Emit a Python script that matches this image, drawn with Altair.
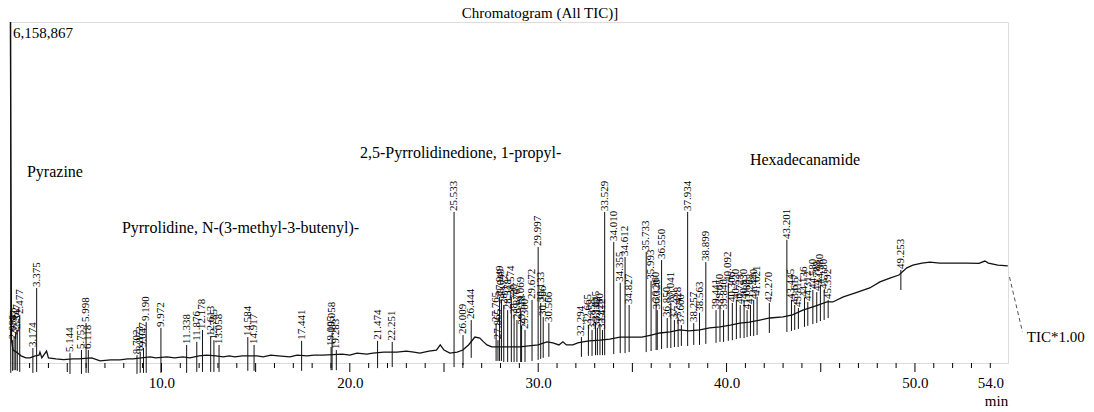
import altair as alt
import pandas as pd

# ---------------- data ----------------
MAX_LABEL = "6,158,867"          # full-scale intensity (top of frame = 100 %)

# baseline trace: retention time (min) and relative intensity (% of full scale)
trace_time = [1.98, 2.04, 2.12, 2.30, 2.55, 2.80, 3.02, 3.30, 3.50, 3.55, 3.65, 3.90, 4.00,
              4.40, 4.80, 5.30, 5.60, 6.30, 6.74, 7.30, 7.80, 8.20, 8.49, 9.40, 9.70, 10.29,
              10.70, 11.14, 11.51, 12.00, 12.40, 12.90, 13.27, 13.60, 13.90, 14.30, 15.07,
              15.40, 15.80, 16.20, 16.82, 17.20, 17.72, 18.10, 18.57, 19.60, 20.00, 20.38,
              20.90, 21.23, 21.80, 22.50, 23.00, 23.40, 23.72, 24.20, 24.60, 24.80, 25.00,
              25.31, 25.70, 26.00, 26.30, 26.64, 26.90, 27.10, 27.28, 27.54, 28.30, 29.03,
              29.50, 30.00, 30.46, 30.78, 31.10, 31.31, 31.50, 31.84, 32.10, 32.37, 32.70,
              33.28, 33.80, 34.34, 35.03, 35.50, 36.00, 36.46, 37.00, 37.52, 38.00, 38.58,
              39.10, 39.65, 40.20, 40.71, 41.20, 41.77, 42.30, 43.00, 43.50, 44.05, 44.70,
              45.33, 45.64, 46.20, 46.80, 47.60, 48.14, 48.67, 49.15, 49.57, 49.89, 50.37,
              50.80, 51.32, 52.00, 52.76, 53.40, 53.71, 53.90, 54.40, 54.93]
trace_rel = [100.0, 6.7, 3.8, 3.2, 2.1, 1.5, 1.5, 2.1, 2.3, 3.2, 1.5, 3.5, 1.5,
             1.2, 1.0, 1.2, 1.2, 1.5, 0.6, 0.9, 0.9, 1.2, 1.2, 1.8, 1.5, 1.8,
             1.5, 1.8, 1.5, 2.1, 2.3, 2.1, 1.8, 2.1, 1.8, 2.1, 2.1,
             1.8, 2.3, 2.1, 1.8, 2.3, 2.1, 2.3, 2.3, 2.6, 2.3, 2.9,
             2.6, 2.9, 3.2, 3.2, 3.5, 3.2, 2.9, 3.5, 3.8, 5.3, 3.8,
             2.9, 3.2, 3.8, 5.3, 7.6, 7.3, 6.2, 5.3, 4.7, 4.7, 4.7,
             5.0, 5.3, 6.2, 5.9, 5.3, 6.2, 5.3, 5.3, 5.9, 6.2, 6.5,
             6.7, 7.0, 7.6, 7.6, 7.6, 8.2, 8.8, 9.1, 9.7, 9.4, 9.7,
             10.3, 10.6, 11.1, 11.7, 12.0, 12.6, 13.2, 13.5, 14.1, 15.5, 16.7,
             17.9, 17.9, 19.4, 20.5, 22.0, 23.8, 24.9, 25.8, 27.9, 28.7, 29.3,
             29.6, 29.3, 29.3, 29.3, 29.2, 29.9, 29.3, 28.7, 28.5]

# detected peaks: retention time, apex (% full scale), local baseline (%), label
peak_time = [2.000, 2.098, 2.177, 2.262, 2.347, 2.477, 3.174, 3.375, 5.144, 5.753, 5.998,
             6.118, 8.702, 8.873, 9.047, 9.190, 9.972, 11.338, 11.876, 12.178, 12.613,
             12.785, 13.058, 14.584, 14.917, 17.441, 19.005, 19.058, 19.283, 21.474,
             22.251, 25.533, 26.009, 26.444, 27.765, 27.865, 27.949, 28.049, 28.172,
             28.378, 28.574, 28.720, 28.870, 29.069, 29.118, 29.300, 29.672, 29.997,
             30.133, 30.266, 30.566, 32.294, 32.665, 32.858, 33.045, 33.142, 33.280,
             33.412, 33.529, 34.010, 34.355, 34.612, 34.827, 35.733, 35.993, 36.260,
             36.320, 36.550, 36.850, 37.041, 37.231, 37.428, 37.600, 37.934, 38.257,
             38.563, 38.899, 39.441, 39.650, 39.840, 40.092, 40.306, 40.520, 40.723,
             40.930, 41.089, 41.268, 41.440, 41.621, 42.270, 43.201, 43.445, 43.617,
             43.812, 44.136, 44.312, 44.580, 44.788, 44.980, 45.180, 45.392, 49.253]
peak_top = [100.0, 6.7, 7.9, 8.8, 9.7, 14.1, 4.4, 22.0, 2.9, 3.8, 11.7,
            3.8, 2.3, 3.2, 4.4, 12.0, 10.3, 5.3, 6.2, 9.7, 7.6,
            6.7, 5.3, 7.6, 5.3, 6.5, 4.7, 8.8, 3.8, 6.5,
            6.2, 44.3, 8.2, 12.6, 11.7, 6.7, 19.4, 18.5, 17.0,
            15.5, 19.4, 14.1, 12.6, 16.1, 10.9, 9.7, 18.5, 34.0,
            17.6, 13.5, 11.7, 7.6, 11.1, 9.7, 12.0, 10.3, 11.4,
            9.7, 44.3, 35.5, 23.5, 31.1, 17.0, 32.6, 24.1, 17.6,
            15.5, 30.2, 13.2, 17.6, 12.6, 13.2, 11.1, 44.3, 11.7,
            14.7, 29.6, 15.5, 17.0, 15.5, 23.5, 17.6, 18.5, 17.0,
            18.5, 15.5, 17.0, 18.5, 19.4, 17.6, 36.1, 18.5, 17.0,
            16.1, 19.1, 17.9, 21.4, 20.8, 22.9, 21.4, 18.5, 27.3]
peak_base = [1.5, 2.1, 2.3, 2.3, 2.1, 1.8, 1.5, 1.8, 1.2, 1.2, 1.5,
             1.5, 1.2, 1.5, 1.5, 1.5, 1.5, 1.5, 1.8, 1.8, 1.8,
             1.8, 1.8, 2.1, 2.1, 2.1, 2.3, 2.3, 2.3, 2.9,
             3.2, 3.2, 3.8, 5.9, 5.0, 5.0, 5.0, 5.0, 4.7,
             4.7, 4.7, 4.7, 4.7, 4.7, 4.7, 4.7, 5.0, 5.3,
             5.6, 5.9, 6.2, 6.2, 6.5, 6.5, 6.7, 6.7, 6.7,
             6.7, 6.7, 7.0, 7.3, 7.3, 7.6, 7.6, 7.9, 8.2,
             8.2, 8.5, 8.8, 8.8, 9.1, 9.1, 9.4, 9.4, 9.7,
             9.7, 10.0, 10.3, 10.6, 10.6, 10.9, 11.1, 11.4, 11.7,
             11.7, 12.0, 12.3, 12.3, 12.6, 13.2, 13.5, 13.8, 14.1,
             14.4, 15.0, 15.3, 15.8, 16.1, 16.7, 17.0, 17.6, 25.8]
peak_label = [""] + [f"{t:.3f}" for t in peak_time[1:]]

# compound annotations
annot_text = ["Pyrazine", "Pyrrolidine, N-(3-methyl-3-butenyl)-",
              "2,5-Pyrrolidinedione, 1-propyl-", "Hexadecanamide"]
annot_time = [2.86, 7.90, 20.54, 41.24]
annot_rel = [56.0, 39.6, 61.6, 59.5]

axis_label_values = [10, 20, 30, 40, 50, 54]
minor_tick_times = [t for t in range(3, 55) if t % 5 != 0]
major_tick_times = [5, 10, 15, 20, 25, 30, 35, 40, 45, 50]

# ---------------- chart ----------------
SERIF = "Liberation Serif"
XDOM = [1.96, 54.94]

trace_df = pd.DataFrame({"t": trace_time, "v": trace_rel})
peaks_df = pd.DataFrame({"t": peak_time, "top": peak_top, "base": peak_base, "label": peak_label})
peaks_df["low"] = peaks_df["base"] - 4.4
annot_df = pd.DataFrame({"t": annot_time, "v": annot_rel, "text": annot_text})

xs = alt.Scale(domain=XDOM, nice=False, zero=False)
ys = alt.Scale(domain=[0, 100], nice=False, zero=True)

x_axis = alt.Axis(values=axis_label_values, format=".1f", ticks=False, domain=False, grid=False,
                  labelFont=SERIF, labelFontSize=15, labelColor="black", labelPadding=12,
                  title="min", titleFont=SERIF, titleFontSize=15, titleFontWeight="normal",
                  titleColor="black", titleX=986, titleY=37, titleAlign="center",
                  titleBaseline="middle", titleAnchor="start")


def X(field="t"):
    return alt.X(f"{field}:Q", scale=xs, axis=x_axis)


def Y(field):
    return alt.Y(f"{field}:Q", scale=ys, axis=None)


trace = alt.Chart(trace_df).mark_line(color="#111", strokeWidth=1.3, clip=False).encode(
    x=X(), y=Y("v"),
)

peak_lines = alt.Chart(peaks_df).mark_rule(color="#111", strokeWidth=1).encode(
    x=X(), y=Y("top"), y2="low:Q",
)

peak_text = alt.Chart(peaks_df).mark_text(angle=270, align="left", baseline="middle",
                                           font=SERIF, fontSize=11, color="black", dx=1).encode(
    x=X(), y=Y("top"), text="label:N",
)

annots = alt.Chart(annot_df).mark_text(align="left", baseline="middle", font=SERIF,
                                       fontSize=16, color="black").encode(
    x=X(), y=Y("v"), text="text:N",
)

max_df = pd.DataFrame({"t": [XDOM[0]], "v": [100.0], "text": [MAX_LABEL]})
max_text = alt.Chart(max_df).mark_text(align="left", baseline="top", font=SERIF, fontSize=15,
                                       color="black", dx=3, dy=4).encode(
    x=X(), y=Y("v"), text="text:N",
)

tic_df = pd.DataFrame({"t": [55.94], "v": [7.6], "text": ["TIC*1.00"]})
tic_text = alt.Chart(tic_df).mark_text(align="left", baseline="middle", font=SERIF, fontSize=15,
                                       color="black").encode(
    x=X(), y=Y("v"), text="text:N",
)
lead_df = pd.DataFrame({"t": [55.02], "t2": [55.71], "v": [25.2], "v2": [9.1]})
lead = alt.Chart(lead_df).mark_rule(color="#555", strokeWidth=1, strokeDash=[4, 3]).encode(
    x=X(), x2="t2:Q", y=Y("v"), y2="v2:Q",
)

minor_df = pd.DataFrame({"t": minor_tick_times})
major_df = pd.DataFrame({"t": major_tick_times})
minor_ticks = alt.Chart(minor_df).mark_rule(color="black", strokeWidth=1).encode(
    x=X(), y=alt.value(341), y2=alt.value(346))
major_ticks = alt.Chart(major_df).mark_rule(color="black", strokeWidth=1).encode(
    x=X(), y=alt.value(341), y2=alt.value(350))

chart = alt.layer(
    trace, peak_lines, peak_text, annots, max_text, tic_text, lead, minor_ticks, major_ticks
).properties(
    width=998, height=341,
    title=alt.TitleParams("Chromatogram (All TIC)]", font=SERIF, fontSize=15, fontWeight="normal",
                          color="black", anchor="middle", dx=31, dy=6, offset=4),
    autosize=alt.AutoSizeParams(type="none"),
    padding={"left": 10, "top": 22, "right": 86, "bottom": 49},
).configure_view(stroke="#444", strokeWidth=1).configure(background="white")

chart.save("out.html", embed_options={"renderer": "svg", "actions": False})
